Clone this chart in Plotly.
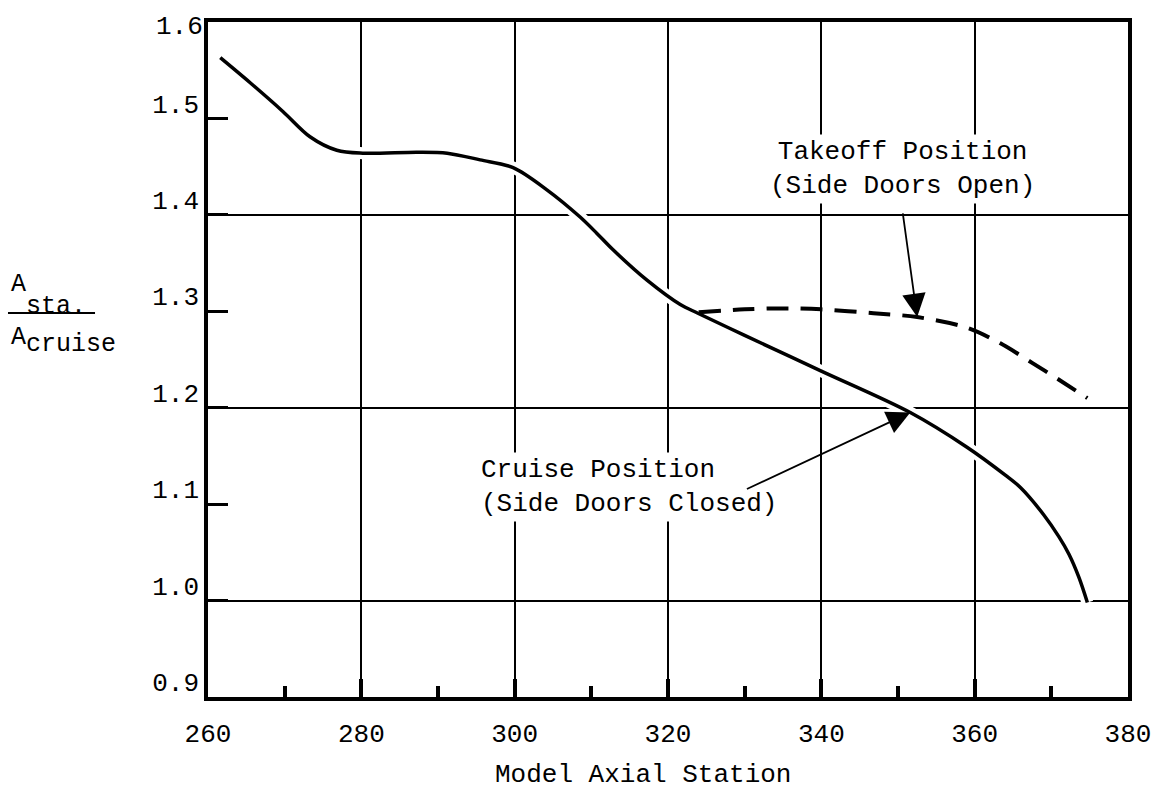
import plotly.graph_objects as go

# Model axial station vs. area ratio A_sta / A_cruise
cruise_x = [261.6, 265.5, 269.8, 273.3, 276.8, 280.2, 287.3, 291.2, 295.5, 299.8,
            304.2, 308.5, 310.7, 312.8, 317.3, 321.6, 323.9, 330.0, 340.0, 351.6,
            359.0, 364.0, 366.0, 369.0, 371.0, 372.3, 373.6, 374.7]
cruise_y = [1.563, 1.537, 1.507, 1.481, 1.467, 1.464, 1.465, 1.464, 1.457, 1.449,
            1.426, 1.398, 1.381, 1.364, 1.332, 1.307, 1.298, 1.275, 1.238, 1.195,
            1.159, 1.130, 1.117, 1.089, 1.066, 1.048, 1.024, 0.998]

takeoff_x = [324.0, 330.0, 335.0, 340.0, 346.8, 352.5, 359.0, 363.3, 367.6, 371.0, 374.7]
takeoff_y = [1.299, 1.302, 1.303, 1.302, 1.298, 1.294, 1.283, 1.267, 1.246, 1.229, 1.210]

x_range = [260, 380]
y_range = [0.9, 1.6]
y_ticks = [0.9, 1.0, 1.1, 1.2, 1.3, 1.4, 1.5, 1.6]
grid_y = [1.0, 1.2, 1.4]

FONT = "Liberation Mono, Courier New, monospace"

fig = go.Figure()

# white halo under the solid curve so the grid breaks where it crosses
fig.add_trace(go.Scatter(x=cruise_x, y=cruise_y, mode="lines",
                         line=dict(color="white", width=12, shape="spline", smoothing=0.9),
                         hoverinfo="skip", showlegend=False))
fig.add_trace(go.Scatter(x=cruise_x, y=cruise_y, mode="lines",
                         line=dict(color="black", width=3.5, shape="spline", smoothing=0.9),
                         name="Cruise Position", showlegend=False))
fig.add_trace(go.Scatter(x=takeoff_x, y=takeoff_y, mode="lines", yaxis="y2",
                         line=dict(color="black", width=4, dash="22px,12px",
                                   shape="spline", smoothing=0.9),
                         name="Takeoff Position", showlegend=False))

axis_font = dict(family=FONT, size=26, color="black")

# top label sits below the frame, the rest are lettered above their ticks
y_ticktext = [f"{v:.1f}" if v < 1.55 else "" for v in y_ticks]

fig.update_layout(
    width=1154, height=798,
    margin=dict(l=208, r=26, t=22, b=101, autoexpand=False),
    paper_bgcolor="white", plot_bgcolor="white",
    showlegend=False,
    xaxis=dict(
        range=x_range, tick0=260, dtick=20, automargin=False,
        showgrid=True, gridcolor="black", gridwidth=1.8,
        zeroline=False,
        showline=True, linecolor="black", linewidth=3.5, mirror=True,
        ticks="inside", ticklen=18, tickwidth=3.5, tickcolor="black",
        minor=dict(dtick=10, tick0=260, ticks="inside", ticklen=11,
                   tickwidth=3.5, tickcolor="black", showgrid=False),
        tickfont=axis_font, ticklabelstandoff=10,
    ),
    yaxis=dict(
        range=y_range, tickmode="array", tickvals=y_ticks, ticktext=y_ticktext,
        automargin=False,
        showgrid=False, zeroline=False,
        showline=True, linecolor="black", linewidth=3.5, mirror=True,
        ticks="inside", ticklen=20, tickwidth=3, tickcolor="black",
        tickfont=axis_font, ticklabelstandoff=0, ticklabelshift=-15,
    ),
    yaxis2=dict(
        range=y_range, overlaying="y", side="left", automargin=False,
        tickmode="array", tickvals=grid_y,
        showgrid=True, gridcolor="black", gridwidth=1.8,
        showticklabels=False, ticks="", showline=False, zeroline=False,
    ),
)

text_font = dict(family=FONT, size=26, color="black")

# "1.6" label at the top of the frame
fig.add_annotation(x=0, y=y_ticks[-1], xref="paper", yref="y",
                   text=f"{y_ticks[-1]:.1f}", showarrow=False,
                   xanchor="right", yanchor="middle", xshift=-3, yshift=-5,
                   font=axis_font)

# curve labels
fig.add_annotation(x=350.6, y=1.4476, xref="x", yref="y",
                   text="Takeoff Position<br>(Side Doors Open)",
                   showarrow=False, align="center", font=text_font,
                   bgcolor="white", borderpad=2)
fig.add_annotation(x=295.2, y=1.1178, xref="x", yref="y", xanchor="left",
                   text="Cruise Position<br>(Side Doors Closed)",
                   showarrow=False, align="left", font=text_font,
                   bgcolor="white", borderpad=2)

# leader arrows
fig.add_annotation(x=352.5, y=1.294, ax=350.6, ay=1.403, xref="x", yref="y",
                   axref="x", ayref="y", text="", showarrow=True,
                   arrowhead=2, arrowsize=2.6, arrowwidth=1.8, arrowcolor="black",
                   standoff=0, startstandoff=0)
fig.add_annotation(x=351.6, y=1.195, ax=330.1, ay=1.115, xref="x", yref="y",
                   axref="x", ayref="y", text="", showarrow=True,
                   arrowhead=2, arrowsize=2.6, arrowwidth=1.8, arrowcolor="black",
                   standoff=0, startstandoff=0)

# x-axis title
fig.add_annotation(x=0.4728, y=-0.1156, xref="paper", yref="paper",
                   text="Model Axial Station", showarrow=False,
                   xanchor="center", yanchor="middle", font=text_font)

# y-axis title as a stacked fraction
frac_font = dict(family=FONT, size=25, color="black")
fig.add_annotation(x=-0.2165, y=0.6104, xref="paper", yref="paper",
                   text="A", showarrow=False, xanchor="left", yanchor="middle",
                   font=frac_font)
fig.add_annotation(x=-0.2000, y=0.5780, xref="paper", yref="paper",
                   text="sta.", showarrow=False, xanchor="left", yanchor="middle",
                   font=frac_font)
fig.add_annotation(x=-0.2165, y=0.5333, xref="paper", yref="paper",
                   text="A", showarrow=False, xanchor="left", yanchor="middle",
                   font=frac_font)
fig.add_annotation(x=-0.2000, y=0.5215, xref="paper", yref="paper",
                   text="cruise", showarrow=False, xanchor="left", yanchor="middle",
                   font=frac_font)
fig.add_shape(type="line", xref="paper", yref="paper",
              x0=-0.2174, x1=-0.1228, y0=0.5689, y1=0.5689,
              line=dict(color="black", width=2))

fig.write_html("out.html")
